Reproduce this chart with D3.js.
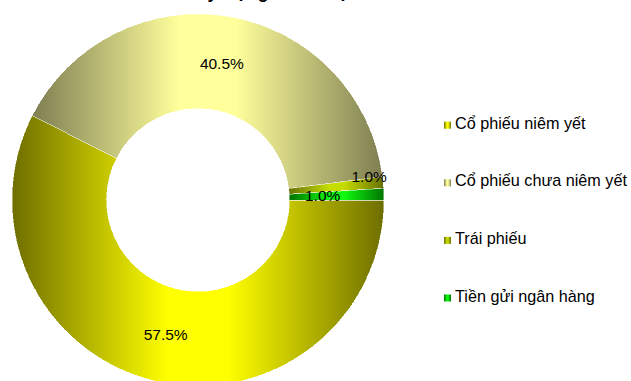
<!DOCTYPE html>
<html>
<head>
<meta charset="utf-8">
<script src="https://cdn.jsdelivr.net/npm/d3@7/dist/d3.min.js"></script>
<style>
  html, body { margin: 0; padding: 0; background: #fff; }
  svg { display: block; font-family: Arial, "Liberation Sans", sans-serif; }
</style>
</head>
<body>
<svg id="chart" width="631" height="381"></svg>
<script>
// Portfolio breakdown (percent)
const categories = ["Cổ phiếu niêm yết", "Cổ phiếu chưa niêm yết", "Trái phiếu", "Tiền gửi ngân hàng"];
const values = [57.5, 40.5, 1.0, 1.0];
const title = "Tỷ trọng danh mục đầu tư";

// Two-tone horizontal shading per series: [edge colour, centre colour]
const shades = [
  ["#6e6e00", "#ffff00"],
  ["#7e7e52", "#ffff9c"],
  ["#667000", "#c4dc00"],
  ["#007400", "#10f810"]
];
// Small-slice label nudges so the two 1% labels do not collide
const labelNudge = [[0, 0], [0, 0], [33, -11], [-14, 0]];

const svg = d3.select("#chart");
const cx = 198, cy = 200, outerR = 186, innerR = 91.5;

const defs = svg.append("defs");
shades.forEach((s, i) => {
  const g = defs.append("linearGradient")
    .attr("id", "shade" + i)
    .attr("x1", "0%").attr("x2", "100%").attr("y1", "0%").attr("y2", "0%");
  g.append("stop").attr("offset", "0%").attr("stop-color", s[0]);
  g.append("stop").attr("offset", "42%").attr("stop-color", s[1]);
  g.append("stop").attr("offset", "58%").attr("stop-color", s[1]);
  g.append("stop").attr("offset", "100%").attr("stop-color", s[0]);
});

// Title (sits above the top edge; only its lowest marks reach the page)
svg.append("text")
  .attr("x", 196.5)
  .attr("y", -2.2)
  .attr("font-size", 18)
  .attr("font-weight", "bold")
  .attr("fill", "#000")
  .text(title);

const pie = d3.pie()
  .sort(null)
  .value(d => d)
  .startAngle(Math.PI / 2)
  .endAngle(Math.PI / 2 + 2 * Math.PI);

const arcs = pie(values);
const arc = d3.arc().innerRadius(innerR).outerRadius(outerR);
const labelArc = d3.arc().innerRadius((innerR + outerR) / 2).outerRadius((innerR + outerR) / 2);

const g = svg.append("g").attr("transform", `translate(${cx},${cy})`);

g.selectAll("path.slice")
  .data(arcs)
  .join("path")
  .attr("class", "slice")
  .attr("d", arc)
  .attr("fill", (d, i) => `url(#shade${i})`)
  .attr("stroke", "rgba(255,255,255,0.55)")
  .attr("stroke-width", 0.8)
  .attr("shape-rendering", "crispEdges");

g.selectAll("text.val")
  .data(arcs)
  .join("text")
  .attr("class", "val")
  .attr("x", (d, i) => labelArc.centroid(d)[0] + labelNudge[i][0])
  .attr("y", (d, i) => labelArc.centroid(d)[1] + labelNudge[i][1])
  .attr("dy", "0.36em")
  .attr("text-anchor", "middle")
  .attr("font-size", 15.5)
  .attr("fill", "#000")
  .text(d => d.value.toFixed(1) + "%");

// Legend
const legendY = d3.scalePoint()
  .domain(categories)
  .range([121.7, 294.5]);

const legend = svg.append("g");
const item = legend.selectAll("g.item")
  .data(categories)
  .join("g")
  .attr("class", "item")
  .attr("transform", d => `translate(444,${legendY(d)})`);

item.append("rect")
  .attr("width", 7)
  .attr("height", 7)
  .attr("fill", (d, i) => `url(#shade${i})`);

item.append("text")
  .attr("x", 11)
  .attr("y", 7)
  .attr("font-size", 16.2)
  .attr("fill", "#000")
  .text(d => d);
</script>
</body>
</html>
